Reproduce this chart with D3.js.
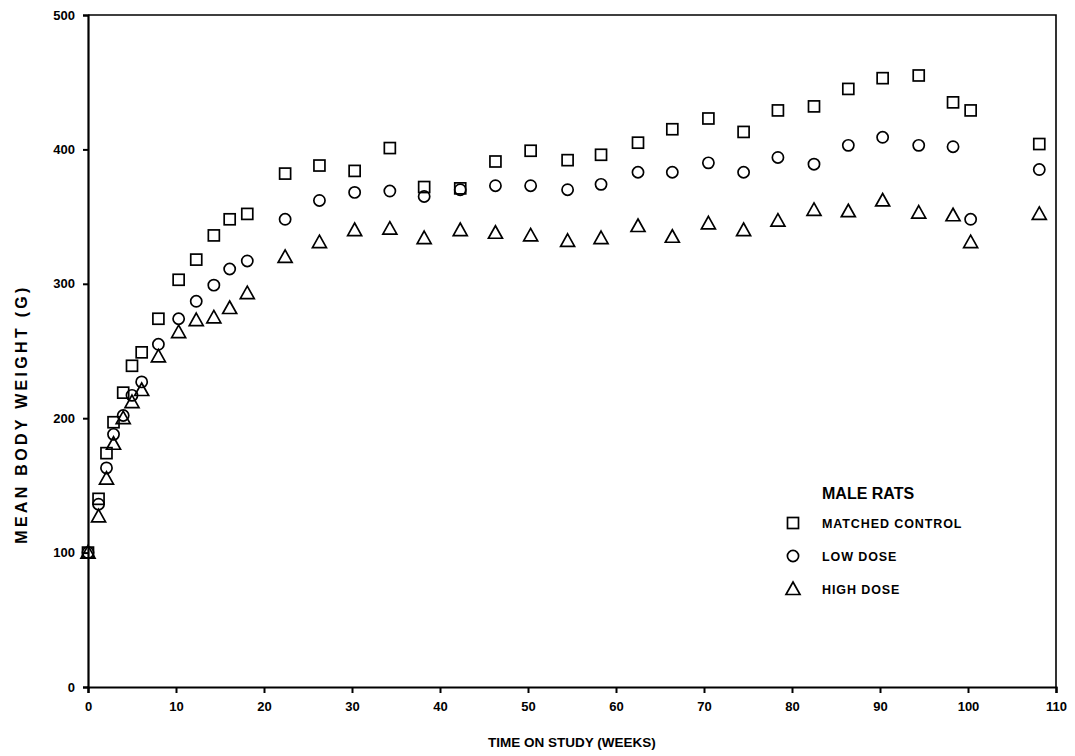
<!DOCTYPE html>
<html>
<head>
<meta charset="utf-8">
<script src="https://cdn.jsdelivr.net/npm/d3@7"></script>
<style>
  html, body { margin: 0; padding: 0; background: #fff; }
  svg { display: block; }
  text { font-family: "Liberation Sans", Arial, Helvetica, sans-serif; font-weight: bold; fill: #000; }
  .axis text { font-size: 13px !important; font-weight: bold; }
</style>
</head>
<body>
<svg id="chart" width="1075" height="756"></svg>
<script>
const weeks = [0,1.2,2.1,2.9,4,5,6.1,8,10.3,12.3,14.3,16.1,18.1,22.4,26.3,30.3,34.3,38.2,42.3,46.3,50.3,54.5,58.3,62.5,66.4,70.5,74.5,78.4,82.5,86.4,90.3,94.4,98.3,100.3,108.1];
const matchedControl = [100,140,174,197,219,239,249,274,303,318,336,348,352,382,388,384,401,372,371,391,399,392,396,405,415,423,413,429,432,445,453,455,435,429,404];
const lowDose = [100,136,163,188,202,217,227,255,274,287,299,311,317,348,362,368,369,365,370,373,373,370,374,383,383,390,383,394,389,403,409,403,402,348,385];
const highDose = [100,127,155,181,200,212,221,246,264,273,275,282,293,320,331,340,341,334,340,338,336,332,334,343,335,345,340,347,355,354,362,353,351,331,352];
const xTicks = [0,10,20,30,40,50,60,70,80,90,100,110];
const yTicks = [0,100,200,300,400,500];
const seriesNames = ["MATCHED CONTROL","LOW DOSE","HIGH DOSE"];
const seriesShapes = ["square","circle","triangle"];
const legendTitle = "MALE RATS";
const xTitle = "TIME ON STUDY (WEEKS)";
const yTitle = "MEAN BODY WEIGHT (G)";

const svg = d3.select("#chart");
const margin = {left: 88, right: 19, top: 15, bottom: 69};
const W = 1075, H = 756;
const x = d3.scaleLinear().domain([0,110]).range([margin.left, W - margin.right]);
const y = d3.scaleLinear().domain([0,500]).range([H - margin.bottom, margin.top]);

// frame (top & right)
svg.append("path")
  .attr("d", `M${x(0)},${y(500)}H${x(110)}V${y(0)}`)
  .attr("fill","none").attr("stroke","#000").attr("stroke-width",1.6);

// x axis
const xAxis = svg.append("g").attr("class","axis").attr("transform",`translate(0,${y(0)})`)
  .call(d3.axisBottom(x).tickValues(xTicks).tickFormat(d3.format("d")).tickSize(6).tickPadding(9));
xAxis.attr("font-size", 13).attr("font-family","'Liberation Sans', Arial, sans-serif").attr("font-weight","bold");
xAxis.select(".domain").attr("stroke-width",2.2);
xAxis.selectAll(".tick line").attr("stroke-width",2);
xAxis.selectAll(".tick text").attr("font-size", 13).attr("fill","#000");

// y axis
const yAxis = svg.append("g").attr("class","axis").attr("transform",`translate(${x(0)},0)`)
  .call(d3.axisLeft(y).tickValues(yTicks).tickFormat(d3.format("d")).tickSize(5).tickPadding(8));
yAxis.attr("font-size", 13).attr("font-family","'Liberation Sans', Arial, sans-serif").attr("font-weight","bold");
yAxis.select(".domain").attr("stroke-width",2.2);
yAxis.selectAll(".tick line").attr("stroke-width",2);
yAxis.selectAll(".tick text").attr("font-size", 13).attr("fill","#000");

// axis titles
svg.append("text").attr("x", (x(0)+x(110))/2).attr("y", 747).attr("text-anchor","middle")
  .style("font-size","13.5px").text(xTitle);
svg.append("text").attr("transform",`translate(27,414) rotate(-90)`)
  .attr("text-anchor","middle").style("font-size","16px").style("letter-spacing","3.3px").text(yTitle);

// markers
function drawShape(g, shape, cx, cy) {
  if (shape === "square") {
    g.append("rect").attr("x", cx-5.5).attr("y", cy-5.5).attr("width",11).attr("height",11)
      .attr("fill","none").attr("stroke","#000").attr("stroke-width",1.7);
  } else if (shape === "circle") {
    g.append("circle").attr("cx",cx).attr("cy",cy).attr("r",5.6)
      .attr("fill","none").attr("stroke","#000").attr("stroke-width",1.7);
  } else {
    g.append("path").attr("d",`M${cx},${cy-7}L${cx+7},${cy+5.5}L${cx-7},${cy+5.5}Z`)
      .attr("fill","none").attr("stroke","#000").attr("stroke-width",1.7).attr("stroke-linejoin","miter");
  }
}
const allSeries = [matchedControl, lowDose, highDose];
allSeries.forEach((vals, si) => {
  const g = svg.append("g").attr("class","series-"+si);
  vals.forEach((v, i) => drawShape(g, seriesShapes[si], x(weeks[i]), y(v)));
});

// legend
const lg = svg.append("g");
lg.append("text").attr("x",822).attr("y",499).style("font-size","16px").text(legendTitle);
seriesNames.forEach((name, i) => {
  const cy = 523 + i*33;
  drawShape(lg, seriesShapes[i], 793, cy);
  lg.append("text").attr("x",822).attr("y",cy+4.5).style("font-size","12.5px").style("letter-spacing","0.9px").text(name);
});
</script>
</body>
</html>
